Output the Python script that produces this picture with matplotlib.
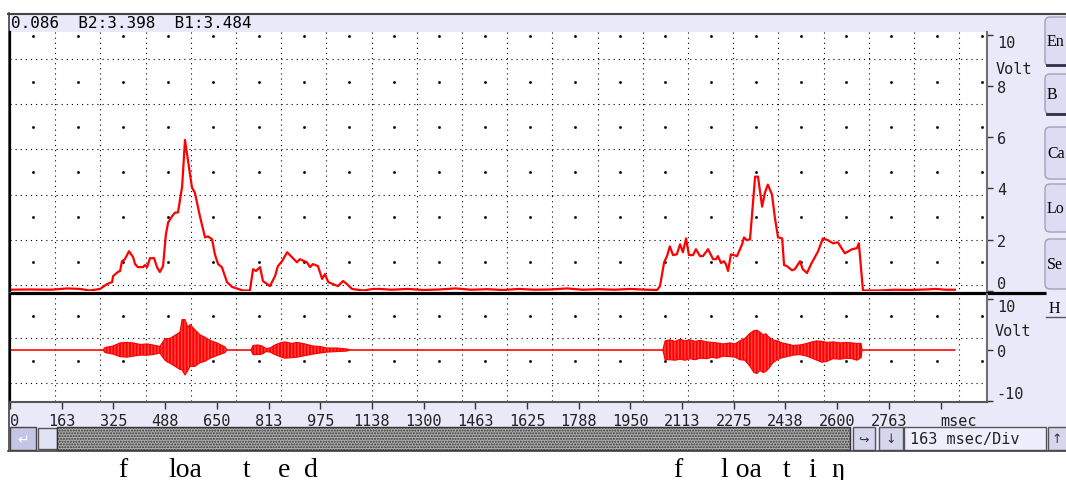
import matplotlib
matplotlib.use('Agg')
import matplotlib.pyplot as plt
from matplotlib.patches import Rectangle, FancyBboxPatch
from matplotlib.transforms import blended_transform_factory
import numpy as np

# energy trace (upper panel): time in msec, level in volt
rms_t = [0, 60, 130, 180, 220, 251, 283, 305, 321, 324, 339, 346, 352, 361, 374,
         387, 393, 402, 418, 424, 431, 440, 453, 462, 471, 481, 490, 497, 509, 519,
         528, 541, 550, 559, 572, 581, 597, 613, 622, 635, 644, 654, 666, 682, 698,
         717, 732, 754, 764, 773, 786, 795, 817, 833, 842, 855, 871, 886, 902, 911,
         933, 943, 952, 968, 981, 990, 1000, 1015, 1031, 1047, 1059, 1075, 1110, 1141,
         1163, 1200, 1250, 1300, 1350, 1400, 1450, 1500, 1550, 1600, 1650, 1700, 1750,
         1800, 1850, 1900, 1950, 2000, 2034, 2043, 2056, 2065, 2074, 2084, 2096, 2106,
         2115, 2125, 2134, 2147, 2156, 2169, 2178, 2194, 2210, 2219, 2225, 2235, 2244,
         2250, 2257, 2266, 2285, 2301, 2307, 2316, 2326, 2342, 2351, 2364, 2373, 2382,
         2395, 2404, 2414, 2427, 2433, 2442, 2458, 2467, 2483, 2492, 2505, 2518, 2530,
         2540, 2555, 2571, 2587, 2602, 2624, 2647, 2662, 2668, 2681, 2735, 2780, 2830,
         2880, 2910, 2940, 2970]
rms_v = [0.05, 0.06, 0.05, 0.10, 0.08, 0.02, 0.08, 0.27, 0.35, 0.58, 0.74, 0.78, 1.16, 1.24, 1.55,
         1.32, 1.05, 0.93, 0.93, 1.01, 0.93, 1.28, 1.28, 0.93, 0.74, 0.97, 2.21, 2.67, 2.91, 3.06,
         3.06, 4.07, 5.89, 5.12, 4.03, 3.84, 2.91, 2.09, 2.13, 2.02, 1.43, 1.05, 0.93, 0.35, 0.16,
         0.08, 0.02, 0.02, 0.85, 0.78, 0.93, 0.39, 0.19, 0.58, 0.97, 1.16, 1.51, 1.32, 1.12, 1.24,
         1.12, 0.93, 1.05, 0.97, 0.47, 0.66, 0.35, 0.27, 0.19, 0.39, 0.27, 0.08, 0.02, 0.08,
         0.08, 0.05, 0.08, 0.04, 0.06, 0.10, 0.05, 0.07, 0.04, 0.08, 0.05, 0.06, 0.10,
         0.05, 0.07, 0.05, 0.08, 0.05, 0.04, 0.19, 1.12, 1.36, 1.74, 1.40, 1.43, 1.82,
         1.51, 2.05, 1.40, 1.40, 1.63, 1.36, 1.36, 1.63, 1.24, 1.24, 1.36, 1.09, 1.16,
         1.05, 0.78, 1.43, 1.36, 1.82, 2.09, 1.98, 2.02, 4.46, 4.46, 3.29, 3.84, 4.15,
         3.76, 2.87, 2.09, 2.05, 1.01, 0.97, 0.81, 0.85, 1.16, 0.85, 0.70, 1.05, 1.32,
         1.55, 2.05, 1.98, 1.86, 1.90, 1.47, 1.63, 1.67, 1.86, 0.02, 0.02, 0.05, 0.04,
         0.06, 0.08, 0.05, 0.05]

# waveform (lower panel): upper / lower envelope in volt
wave_t = [0, 292, 299, 324, 346, 368, 387, 409, 431, 449, 471, 487, 503, 519, 534, 541,
          550, 559, 566, 581, 597, 613, 629, 654, 676, 682, 757, 764, 779, 792, 805, 817,
          833, 849, 864, 886, 902, 927, 952, 974, 996, 1028, 1059, 1069, 2052, 2059, 2074,
          2090, 2106, 2122, 2137, 2153, 2169, 2191, 2206, 2222, 2241, 2263, 2279, 2294,
          2310, 2326, 2338, 2348, 2357, 2367, 2376, 2386, 2398, 2411, 2427, 2442, 2461,
          2483, 2505, 2521, 2536, 2552, 2568, 2587, 2609, 2628, 2647, 2662, 2675, 2678, 2970]
wave_hi = [0, 0, 0.5, 0.8, 1.4, 1.5, 1.4, 1.1, 1.2, 1.0, 0.7, 2.2, 2.3, 2.9, 3.5, 6.0,
           6.0, 4.5, 5.0, 4.0, 3.0, 2.5, 1.9, 1.3, 0.6, 0, 0, 0.9, 1.0, 0.8, 0.3, 0.4,
           1.0, 1.4, 1.6, 1.3, 1.5, 1.2, 0.8, 0.7, 0.4, 0.4, 0.2, 0, 0, 1.8, 2.0,
           1.7, 2.1, 1.8, 2.0, 1.7, 1.9, 1.6, 1.5, 1.4, 1.2, 1.4, 1.2, 1.8,
           2.3, 3.3, 3.8, 3.9, 3.5, 3.0, 3.2, 2.5, 2.0, 1.8, 1.4, 1.2, 0.9,
           1.0, 1.3, 1.6, 1.8, 1.7, 1.5, 1.6, 1.4, 1.5, 1.4, 1.3, 1.3, 0, 0]
wave_lo = [0, 0, -0.5, -0.8, -1.3, -1.4, -1.2, -1.0, -1.0, -0.9, -0.6, -2.0, -2.6, -3.2, -3.8, -3.9,
           -4.9, -4.0, -3.2, -3.2, -2.5, -2.2, -1.6, -1.0, -0.5, 0, 0, -0.9, -0.9, -0.8, -0.3, -0.4,
           -0.9, -1.3, -1.6, -1.5, -1.4, -1.1, -0.8, -0.6, -0.4, -0.3, -0.2, 0, 0, -1.9, -1.9,
           -2.0, -1.8, -2.0, -1.7, -1.9, -1.6, -1.7, -1.4, -1.6, -1.2, -1.3, -1.4, -1.9,
           -2.0, -3.2, -4.4, -4.6, -4.0, -4.4, -4.2, -3.5, -2.5, -1.9, -1.5, -1.3, -1.0,
           -0.9, -1.2, -1.6, -2.0, -2.4, -2.2, -1.7, -1.8, -1.6, -1.7, -2.0, -1.5, 0, 0]

xtick_labels = ['0', '163', '325', '488', '650', '813', '975', '1138', '1300', '1463',
                '1625', '1788', '1950', '2113', '2275', '2438', '2600', '2763', 'msec']
ms_per_div = 162.5
top_yticks = [0, 2, 4, 6, 8, 10]
bot_yticks = [-10, 0, 10]

status_text = '0.086  B2:3.398  B1:3.484'
div_text = '163 msec/Div'
phones = ['f', 'loa', 't', 'e', 'd', 'f', 'l oa', 't', 'i', 'ŋ']
phone_ms = [355, 550, 745, 861, 946, 2100, 2298, 2442, 2521, 2602]
buttons = ['En', 'B', 'Ca', 'Lo', 'Se']
button_y = [(18, 67), (75, 115), (128, 180), (185, 233), (240, 290)]

plt.rcParams['font.family'] = ['DejaVu Sans Mono']
LAV = '#e9e9fa'
INK = '#222222'
W, H = 1066, 481

fig = plt.figure(figsize=(W / 100, H / 100), dpi=100)
fig.patch.set_facecolor('white')

# background in pixel coordinates (window chrome + grid)
bg = fig.add_axes([0, 0, 1, 1], zorder=0)
bg.set_xlim(0, W)
bg.set_ylim(H, 0)
bg.axis('off')

bg.add_patch(Rectangle((8, 14), W - 8, 438, fc=LAV, ec='none'))
bg.add_patch(Rectangle((10, 33), 977, 370, fc='white', ec='none'))
bg.plot([8, W], [14.5, 14.5], color='#444444', lw=1.5)
bg.plot([8.5, 8.5], [14, 452], color='#444444', lw=1.2)
bg.text(11, 24, status_text, fontsize=11.5, va='center', color='black')

# dotted grid
dot = (0, (1, 3.6))
gx = 10 + 45.2 * np.arange(1, 22)
for x in gx:
    bg.plot([x, x], [33, 403], color='black', lw=0.8, ls=dot)
rows = list(286 - 45.2 * np.arange(0, 6)) + [339.2, 384.4]
for y in rows:
    bg.plot([10, 987], [y, y], color='black', lw=0.8, ls=dot)
cx = 10 + 22.6 + 45.2 * np.arange(0, 22)
cy = list(263.4 - 45.2 * np.arange(0, 6)) + [316.6, 361.8]
for y in cy:
    bg.plot(cx, [y] * len(cx), ls='none', marker='s', ms=0.9, color='black')

# separator between panels
bg.plot([10, 1046], [293.5, 293.5], color='black', lw=2.3, solid_capstyle='butt')

# side buttons
for lab, (y0, y1) in zip(buttons, button_y):
    bg.add_patch(FancyBboxPatch((1045, y0), 30, y1 - y0,
                                boxstyle='round,pad=0,rounding_size=5',
                                fc='#dcdcf2', ec='#a0a0b8', lw=1))
    bg.text(1047, (y0 + y1) / 2, lab, fontsize=11.5, family='Liberation Serif',
            va='center', ha='left', color='black')
for y in (66, 115):
    bg.plot([1047, W], [y, y], color='#303048', lw=2)
bg.text(1049, 309, 'H', fontsize=11.5, family='Liberation Serif', va='center', color='black')
bg.plot([1046, W], [318, 318], color='#555566', lw=1)

# scroll bar
bg.add_patch(Rectangle((10, 428), 26, 23, fc='#c4c4e4', ec='#444444', lw=1))
bg.text(23, 440, '↵', fontsize=10, family='DejaVu Sans', ha='center', va='center', color='white')
bg.add_patch(Rectangle((38, 429), 19, 21, fc='#e2e2f6', ec='#555555', lw=1))
bg.add_patch(Rectangle((57, 428), 793, 23, fc='#b0b0b0', ec='#333333', lw=1,
                       hatch='......'))
bg.add_patch(Rectangle((853, 428), 22, 23, fc='#d6d6ec', ec='#555555', lw=1))
bg.text(864, 440, '↪', fontsize=9, family='DejaVu Sans', ha='center', va='center', color='#333344')
bg.add_patch(Rectangle((879, 428), 24, 23, fc='#d6d6ec', ec='#555555', lw=1))
bg.text(891, 440, '↓', fontsize=9, family='DejaVu Sans', ha='center', va='center', color='#333344')
bg.add_patch(Rectangle((904, 428), 142, 23, fc='#eeeefc', ec='#555555', lw=1))
bg.text(910, 440, div_text, fontsize=11, va='center', color=INK)
bg.add_patch(Rectangle((1048, 428), 22, 23, fc='#d6d6ec', ec='#555555', lw=1))
bg.text(1057, 440, '↑', fontsize=9, family='DejaVu Sans', ha='center', va='center', color='#333344')
bg.plot([8, W], [452, 452], color='#444444', lw=1.2)


def box(x0, y0, x1, y1):
    return [x0 / W, 1 - y1 / H, (x1 - x0) / W, (y1 - y0) / H]


xmax = 977 / 51.7 * ms_per_div

ax1 = fig.add_axes(box(10, 33, 987, 292), zorder=1)
ax2 = fig.add_axes(box(10, 295, 987, 403), zorder=1)
for ax in (ax1, ax2):
    ax.set_facecolor('none')
    ax.set_xlim(0, xmax)
    ax.spines['top'].set_visible(False)
    ax.spines['left'].set_color('black')
    ax.spines['left'].set_linewidth(1.6)
    ax.spines['right'].set_color('#707070')
    ax.spines['right'].set_linewidth(1.5)
    ax.yaxis.tick_right()
    ax.tick_params(axis='y', direction='out', length=4, width=1, color='#333333',
                   labelcolor=INK, labelsize=11, pad=3)

ax1.spines['bottom'].set_visible(False)
ax2.spines['bottom'].set_color('#555555')
ax2.spines['bottom'].set_linewidth(1.5)

ax1.plot(rms_t, rms_v, color='#ff0000', lw=1.6)
ax1.set_ylim(0, 10.1)
ax1.set_xticks([])
ax1.set_yticks(top_yticks, [str(v) for v in top_yticks])
ylabs = ax1.get_yticklabels()
ylabs[0].set_va('bottom')
ylabs[-1].set_va('top')
ax1.text(1.009, 69, 'Volt', transform=blended_transform_factory(ax1.transAxes, bg.transData),
         fontsize=11, va='center', ha='left', color=INK)

ax2.fill_between(wave_t, wave_lo, wave_hi, facecolor='#ff0000', edgecolor='#ff4a4a',
                 hatch='|||||', lw=0)
ax2.plot(wave_t, wave_hi, color='#ff0000', lw=0.8)
ax2.plot(wave_t, wave_lo, color='#ff0000', lw=0.8)
ax2.set_ylim(-10.2, 11.0)
ax2.set_yticks(bot_yticks, [str(v) for v in bot_yticks])
blabs = ax2.get_yticklabels()
blabs[0].set_va('bottom')
blabs[-1].set_va('top')
ax2.text(1.008, 332, 'Volt', transform=blended_transform_factory(ax2.transAxes, bg.transData),
         fontsize=11, va='center', ha='left', color=INK)

xt = [k * ms_per_div for k in range(len(xtick_labels))]
ax2.set_xticks(xt, xtick_labels)
ax2.tick_params(axis='x', direction='out', length=5, width=1, color='#333333',
                labelcolor=INK, labelsize=11, pad=3)
xlabs = ax2.get_xticklabels()
xlabs[0].set_ha('left')
xlabs[-1].set_ha('left')

# phonetic labels under the time axis
tr = blended_transform_factory(ax2.transData, bg.transData)
for p, t in zip(phones, phone_ms):
    ax2.text(t, 477, p, transform=tr, fontsize=20, family='Liberation Serif',
             ha='center', va='baseline', color='black', clip_on=False)

fig.savefig('out.png', dpi=100)
